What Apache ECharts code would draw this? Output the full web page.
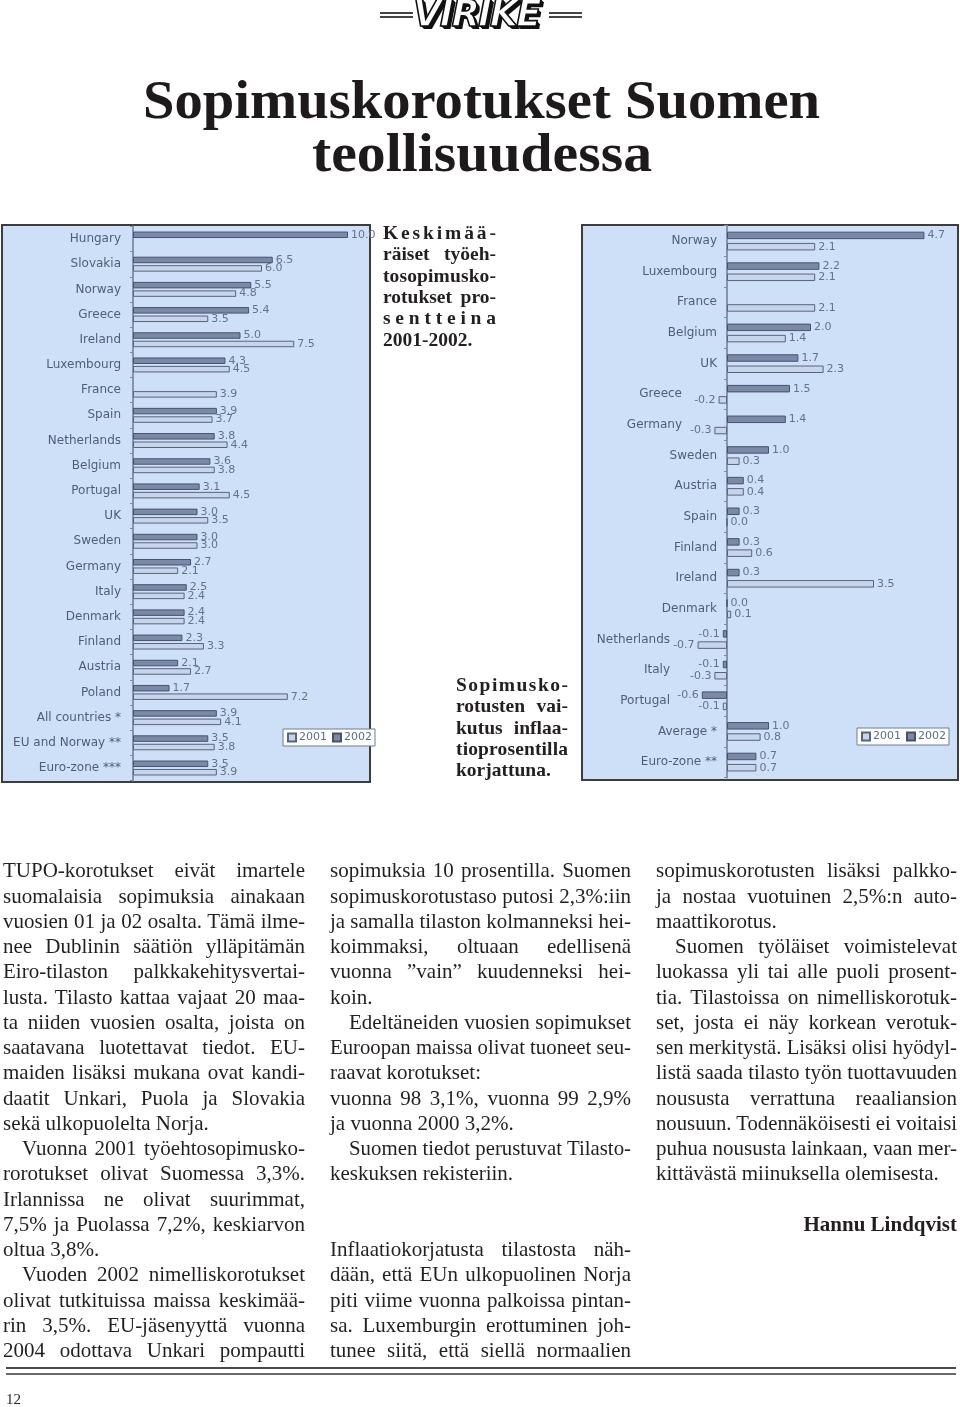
<!DOCTYPE html>
<html><head><meta charset="utf-8">
<script src="https://cdn.jsdelivr.net/npm/echarts/dist/echarts.min.js"></script>
<style>
html,body{margin:0;padding:0;background:#fff;}
#page{position:relative;width:960px;height:1407px;overflow:hidden;background:#fff;}
#chart{position:absolute;left:0;top:0;width:960px;height:1407px;}
.ln{position:absolute;white-space:nowrap;color:#231f20;}
.ln span{white-space:nowrap;}
.body{font-family:"Liberation Serif","Times New Roman",serif;font-size:21px;line-height:25.25px;}
.cap{font-family:"Liberation Serif",serif;font-weight:bold;font-size:19.5px;line-height:21.4px;}
.title{font-family:"Liberation Serif",serif;font-weight:bold;font-size:55px;line-height:55px;color:#1e1a1b;}
.rule{position:absolute;background:#555;}
</style>
</head><body>
<div id="page">
<div id="chart"></div>
<div id="txt"></div>
</div>
<script>
// ---------- chart data ----------
const nominalCategories = ['Hungary','Slovakia','Norway','Greece','Ireland','Luxembourg','France','Spain','Netherlands','Belgium','Portugal','UK','Sweden','Germany','Italy','Denmark','Finland','Austria','Poland','All countries *','EU and Norway **','Euro-zone ***'];
const nominal2002 = [10.0,6.5,5.5,5.4,5.0,4.3,null,3.9,3.8,3.6,3.1,3.0,3.0,2.7,2.5,2.4,2.3,2.1,1.7,3.9,3.5,3.5];
const nominal2001 = [null,6.0,4.8,3.5,7.5,4.5,3.9,3.7,4.4,3.8,4.5,3.5,3.0,2.1,2.4,2.4,3.3,2.7,7.2,4.1,3.8,3.9];

const realCategories = ['Norway','Luxembourg','France','Belgium','UK','Greece','Germany','Sweden','Austria','Spain','Finland','Ireland','Denmark','Netherlands','Italy','Portugal','Average *','Euro-zone **'];
const real2002 = [4.7,2.2,null,2.0,1.7,1.5,1.4,1.0,0.4,0.3,0.3,0.3,0.0,-0.1,-0.1,-0.6,1.0,0.7];
const real2001 = [2.1,2.1,2.1,1.4,2.3,-0.2,-0.3,0.3,0.4,0.0,0.6,3.5,0.1,-0.7,-0.3,-0.1,0.8,0.7];

const seriesNames = ['2001','2002'];

// ---------- styles ----------
const DARK = {color:'#7b88a6', borderColor:'#46536f', borderWidth:1};
const LIGHT = {color:'#c8d4ea', borderColor:'#56647f', borderWidth:1};
const LBL = {show:true, position:'right', distance:3, color:'#64728d', fontSize:11, fontFamily:'DejaVu Sans',
  formatter: p => (typeof p.value === 'number' ? p.value.toFixed(1) : '')};
const CAT = {color:'#4f5d7b', fontSize:12, fontFamily:'DejaVu Sans'};

function toData(vals){
  return vals.map(v => v == null ? '-' : (v < 0 ? {value:v, label:{position:'left'}} : v));
}
// number of negative values per real-chart row (labels are pushed further left)
const realNegCount = realCategories.map((c,i) => [real2001[i], real2002[i]].filter(v => v != null && v < 0).length);

const REAL_MIN = -1, REAL_MAX = 5, REAL_LEFT = 685, REAL_W = 252;
const zeroShift = (0 - REAL_MIN) / (REAL_MAX - REAL_MIN) * REAL_W;

const chart = echarts.init(document.getElementById('chart'), null, {renderer:'canvas'});
chart.setOption({
  animation:false,
  backgroundColor:'#ffffff',
  graphic:{elements:[
    {type:'rect', z:-5, shape:{x:2,y:225,width:368,height:557}, style:{fill:'#cde0f8', stroke:'#3d3d3d', lineWidth:2}},
    {type:'rect', z:-5, shape:{x:582,y:225,width:376,height:555}, style:{fill:'#cde0f8', stroke:'#3d3d3d', lineWidth:2}}
  ]},
  grid:[
    {left:133, top:226.4, width:215, height:554.2},
    {left:REAL_LEFT, top:225.7, width:REAL_W, height:551.7}
  ],
  xAxis:[
    {type:'value', gridIndex:0, min:0, max:10, show:false},
    {type:'value', gridIndex:1, min:REAL_MIN, max:REAL_MAX, show:false}
  ],
  yAxis:[
    {type:'category', gridIndex:0, data:nominalCategories, inverse:true,
     axisLine:{lineStyle:{color:'#8593ad', width:2}},
     axisTick:{show:true, length:3, lineStyle:{color:'#7d8aa3'}},
     axisLabel:Object.assign({margin:12}, CAT)},
    {type:'category', gridIndex:1, data:realCategories, inverse:true, offset:-zeroShift,
     axisLine:{onZero:false, lineStyle:{color:'#8593ad', width:2}},
     axisTick:{show:true, length:3, lineStyle:{color:'#7d8aa3'}},
     axisLabel:Object.assign({margin:10,
       formatter:(v,i) => realNegCount[i] === 2 ? '{b|' + v + '}' : (realNegCount[i] === 1 ? '{a|' + v + '}' : '{p|' + v + '}'),
       rich:{a:Object.assign({padding:[0,35,0,0]}, CAT), b:Object.assign({padding:[0,47,0,0]}, CAT), p:Object.assign({}, CAT)}}, CAT)}
  ],
  legend:[
    {data:seriesNames, left:283, top:729, orient:'horizontal', icon:'rect', itemWidth:8, itemHeight:8, itemGap:5,
     backgroundColor:'#ffffff', borderColor:'#6f7c93', borderWidth:1, padding:[3,3,3,4],
     textStyle:{color:'#5d6b87', fontSize:11, fontFamily:'DejaVu Sans', padding:[0,0,0,-2]}},
    {data:seriesNames, left:857, top:728, orient:'horizontal', icon:'rect', itemWidth:8, itemHeight:8, itemGap:5,
     backgroundColor:'#ffffff', borderColor:'#6f7c93', borderWidth:1, padding:[3,3,3,4],
     textStyle:{color:'#5d6b87', fontSize:11, fontFamily:'DejaVu Sans', padding:[0,0,0,-2]}}
  ],
  series:[
    {name:seriesNames[1], type:'bar', xAxisIndex:0, yAxisIndex:0, data:toData(nominal2002), barWidth:6.5, barGap:'30%', itemStyle:DARK, label:LBL},
    {name:seriesNames[0], type:'bar', xAxisIndex:0, yAxisIndex:0, data:toData(nominal2001), barWidth:6.5, barGap:'30%', itemStyle:LIGHT, label:LBL},
    {name:seriesNames[1], type:'bar', xAxisIndex:1, yAxisIndex:1, data:toData(real2002), barWidth:7.5, barGap:'50%', itemStyle:DARK, label:LBL},
    {name:seriesNames[0], type:'bar', xAxisIndex:1, yAxisIndex:1, data:toData(real2001), barWidth:7.5, barGap:'50%', itemStyle:LIGHT, label:LBL}
  ]
});

// ---------- page text ----------
const txt = document.getElementById('txt');
function addLine(cls, text, x, top, w, mode, extraStyle){
  const d = document.createElement('div');
  d.className = 'ln ' + cls;
  d.style.left = x + 'px'; d.style.top = top + 'px'; d.style.width = w + 'px';
  if (mode === 'r') d.style.textAlign = 'right';
  if (extraStyle) Object.assign(d.style, extraStyle);
  const s = document.createElement('span');
  s.textContent = text;
  d.appendChild(s);
  d.dataset.w = w; d.dataset.m = mode;
  txt.appendChild(d);
  return d;
}
function fit(d){
  const W = parseFloat(d.dataset.w), mode = d.dataset.m;
  const s = d.firstElementChild;
  s.style.display = 'inline-block';
  const nat = s.getBoundingClientRect().width;
  if (mode === 's' || nat > W) {
    s.style.transformOrigin = mode === 'r' ? 'right center' : 'left center';
    s.style.transform = 'scaleX(' + (W / nat) + ')';
  } else if (mode === 'j' || mode === 'c') {
    const t = s.textContent;
    const sp = (t.match(/ /g) || []).length;
    if (sp > 0 && mode === 'j') s.style.wordSpacing = ((W - nat) / sp) + 'px';
    else s.style.letterSpacing = ((W - nat) / (t.length - 1)) + 'px';
  }
}

// title
addLine('title', 'Sopimuskorotukset Suomen', 143, 72, 677, 's');
addLine('title', 'teollisuudessa', 312, 125, 340, 's');

// logo
(function(){
  const l = document.createElement('div');
  l.style.cssText = 'position:absolute;left:413px;top:-8px;font-family:"DejaVu Sans",sans-serif;font-weight:bold;font-style:italic;font-size:37px;line-height:44px;color:#fff;-webkit-text-stroke:1.6px #111;text-shadow:3px 3px 0 #111,2px 2px 0 #111,1px 1px 0 #111;letter-spacing:-2px;';
  l.textContent = 'VIRIKE';
  txt.appendChild(l);
  [[380,12,33],[380,16,33],[549,12,33],[549,16,33]].forEach(r => {
    const e = document.createElement('div'); e.className='rule';
    e.style.cssText += 'left:'+r[0]+'px;top:'+r[1]+'px;width:'+r[2]+'px;height:1.5px;background:#444;';
    txt.appendChild(e);
  });
})();

// captions
const cap1 = [['Keskimää-','c'],['räiset työeh-','j'],['tosopimusko-','c'],['rotukset pro-','j'],['sentteina','c'],['2001-2002.','l']];
cap1.forEach((l,i) => addLine('cap', l[0], 383, 221.8 + i*21.4, 113, l[1]));
const cap2 = [['Sopimusko-','c'],['rotusten vai-','j'],['kutus inflaa-','j'],['tioprosentilla','c'],['korjattuna.','l']];
cap2.forEach((l,i) => addLine('cap', l[0], 456, 673.8 + i*21.4, 112, l[1]));

// body columns
const columns = [
 {x:3, w:302, lines:[
  ['TUPO-korotukset eivät imartele','j'],
  ['suomalaisia sopimuksia ainakaan','j'],
  ['vuosien 01 ja 02 osalta. Tämä ilme-','j'],
  ['nee Dublinin säätiön ylläpitämän','j'],
  ['Eiro-tilaston palkkakehitysvertai-','j'],
  ['lusta. Tilasto kattaa vajaat 20 maa-','j'],
  ['ta niiden vuosien osalta, joista on','j'],
  ['saatavana luotettavat tiedot. EU-','j'],
  ['maiden lisäksi mukana ovat kandi-','j'],
  ['daatit Unkari, Puola ja Slovakia','j'],
  ['sekä ulkopuolelta Norja.','l'],
  ['Vuonna 2001 työehtosopimusko-','j',1],
  ['rorotukset olivat Suomessa 3,3%.','j'],
  ['Irlannissa ne olivat suurimmat,','j'],
  ['7,5% ja Puolassa 7,2%, keskiarvon','j'],
  ['oltua 3,8%.','l'],
  ['Vuoden 2002 nimelliskorotukset','j',1],
  ['olivat tutkituissa maissa keskimää-','j'],
  ['rin 3,5%. EU-jäsenyyttä vuonna','j'],
  ['2004 odottava Unkari pompautti','j']
 ]},
 {x:330, w:301, lines:[
  ['sopimuksia 10 prosentilla. Suomen','j'],
  ['sopimuskorotustaso putosi 2,3%:iin','j'],
  ['ja samalla tilaston kolmanneksi hei-','j'],
  ['koimmaksi, oltuaan edellisenä','j'],
  ['vuonna ”vain” kuudenneksi hei-','j'],
  ['koin.','l'],
  ['Edeltäneiden vuosien sopimukset','j',1],
  ['Euroopan maissa olivat tuoneet seu-','j'],
  ['raavat korotukset:','l'],
  ['vuonna 98 3,1%, vuonna 99 2,9%','j'],
  ['ja vuonna 2000 3,2%.','l'],
  ['Suomen tiedot perustuvat Tilasto-','j',1],
  ['keskuksen rekisteriin.','l'],
  null, null,
  ['Inflaatiokorjatusta tilastosta näh-','j'],
  ['dään, että EUn ulkopuolinen Norja','j'],
  ['piti viime vuonna palkoissa pintan-','j'],
  ['sa. Luxemburgin erottuminen joh-','j'],
  ['tunee siitä, että siellä normaalien','j']
 ]},
 {x:656, w:301, lines:[
  ['sopimuskorotusten lisäksi palkko-','j'],
  ['ja nostaa vuotuinen 2,5%:n auto-','j'],
  ['maattikorotus.','l'],
  ['Suomen työläiset voimistelevat','j',1],
  ['luokassa yli tai alle puoli prosent-','j'],
  ['tia. Tilastoissa on nimelliskorotuk-','j'],
  ['set, josta ei näy korkean verotuk-','j'],
  ['sen merkitystä. Lisäksi olisi hyödyl-','j'],
  ['listä saada tilasto työn tuottavuuden','j'],
  ['noususta verrattuna reaaliansion','j'],
  ['nousuun. Todennäköisesti ei voitaisi','j'],
  ['puhua noususta lainkaan, vaan mer-','j'],
  ['kittävästä miinuksella olemisesta.','l'],
  null,
  ['Hannu Lindqvist','r',0,true]
 ]}
];
const IND = 19, LH = 25.25, TOP0 = 858.3;
columns.forEach(c => c.lines.forEach((l,i) => {
  if (!l) return;
  const ind = l[2] ? IND : 0;
  addLine('body', l[0], c.x + ind, TOP0 + i*LH, c.w - ind, l[1], l[3] ? {fontWeight:'bold'} : null);
}));

// bottom rules and page number
[[1367,2,'#4a4a4a'],[1373,2,'#6a6a6a']].forEach(r => {
  const e = document.createElement('div'); e.className='rule';
  e.style.cssText += 'left:6px;width:950px;top:'+r[0]+'px;height:'+r[1]+'px;background:'+r[2]+';';
  txt.appendChild(e);
});
addLine('body', '12', 6, 1387, 30, 'l', {fontSize:'15px'});

function fitAll(){ document.querySelectorAll('.ln').forEach(fit); }
fitAll();
</script>
</body></html>
